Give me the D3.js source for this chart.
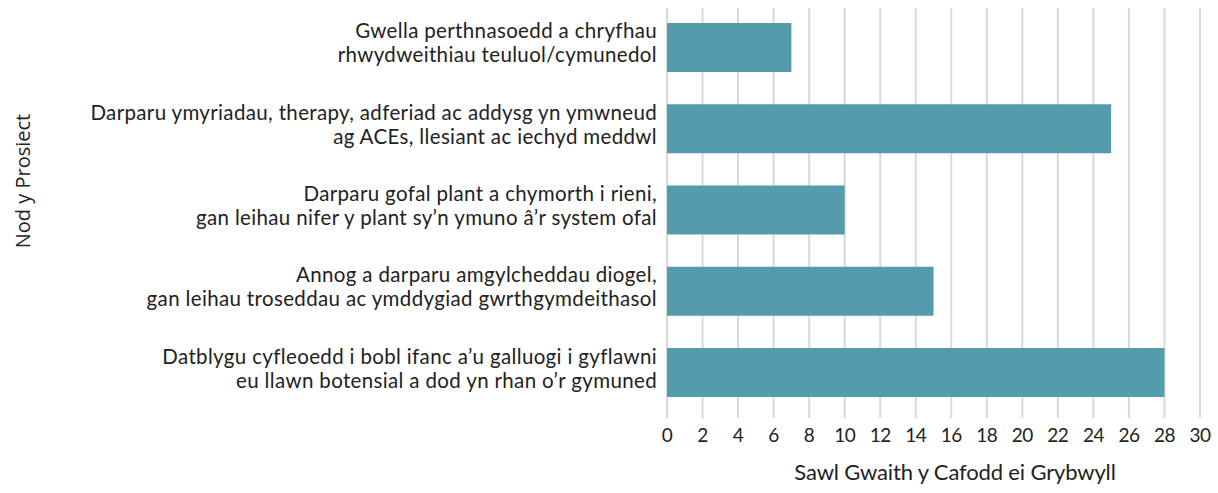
<!DOCTYPE html>
<html>
<head>
<meta charset="utf-8">
<script src="https://cdn.jsdelivr.net/npm/d3@7"></script>
<style>
  body { margin: 0; background: #fff; }
  svg { display: block; }
</style>
</head>
<body>
<svg id="chart"></svg>
<script>
const categories = [
  ["Gwella perthnasoedd a chryfhau", "rhwydweithiau teuluol/cymunedol"],
  ["Darparu ymyriadau, therapy, adferiad ac addysg yn ymwneud", "ag ACEs, llesiant ac iechyd meddwl"],
  ["Darparu gofal plant a chymorth i rieni,", "gan leihau nifer y plant sy\u2019n ymuno \u00e2\u2019r system ofal"],
  ["Annog a darparu amgylcheddau diogel,", "gan leihau troseddau ac ymddygiad gwrthgymdeithasol"],
  ["Datblygu cyfleoedd i bobl ifanc a\u2019u galluogi i gyflawni", "eu llawn botensial a dod yn rhan o\u2019r gymuned"]
];
const counts = [7, 25, 10, 15, 28];
const xTicks = d3.range(0, 31, 2);
const xTitle = "Sawl Gwaith y Cafodd ei Grybwyll";
const yTitle = "Nod y Prosiect";

const width = 1218, height = 493;
const font = "Lato, 'Open Sans', sans-serif";

const svg = d3.select("#chart").attr("width", width).attr("height", height);

const x = d3.scaleLinear().domain([0, 30]).range([667, 1200]);
const y = d3.scaleBand().domain(d3.range(categories.length))
  .range([23, 397]).paddingInner(0.397).paddingOuter(0);

const gridTop = 8, gridBottom = 418;

// gridlines
svg.append("g").selectAll("line").data(xTicks).join("line")
  .attr("x1", d => x(d)).attr("x2", d => x(d))
  .attr("y1", gridTop).attr("y2", gridBottom)
  .attr("stroke", "#d9d9d9").attr("stroke-width", 2);

// bars
svg.append("g").selectAll("rect").data(counts).join("rect")
  .attr("x", x(0)).attr("y", (d, i) => y(i))
  .attr("width", d => x(d) - x(0)).attr("height", y.bandwidth())
  .attr("fill", "#549cab");

// x tick labels
svg.append("g").selectAll("text").data(xTicks).join("text")
  .attr("x", d => x(d)).attr("y", 442)
  .attr("text-anchor", "middle").attr("font-family", font).attr("font-size", 19)
  .attr("letter-spacing", -0.5)
  .attr("fill", "#222").text(d => d);

// category labels, two lines each
const lab = svg.append("g").selectAll("text").data(categories).join("text")
  .attr("text-anchor", "end").attr("font-family", font).attr("font-size", 20.5)
  .attr("letter-spacing", 0.35)
  .attr("fill", "#222");
lab.each(function(d, i) {
  const t = d3.select(this);
  const cy = y(i) + y.bandwidth() / 2;
  d.forEach((line, j) => {
    t.append("tspan").attr("x", 657)
      .attr("y", cy + (j === 0 ? -9 : 15)).text(line);
  });
});

// axis titles
svg.append("text").attr("x", 955).attr("y", 480)
  .attr("text-anchor", "middle").attr("font-family", font).attr("font-size", 22)
  .attr("letter-spacing", -0.15)
  .attr("fill", "#222").text(xTitle);

svg.append("text").attr("transform", "translate(30, 181) rotate(-90)")
  .attr("text-anchor", "middle").attr("font-family", "'Open Sans', sans-serif").attr("font-size", 20)
  .attr("fill", "#222").text(yTitle);
</script>
</body>
</html>
